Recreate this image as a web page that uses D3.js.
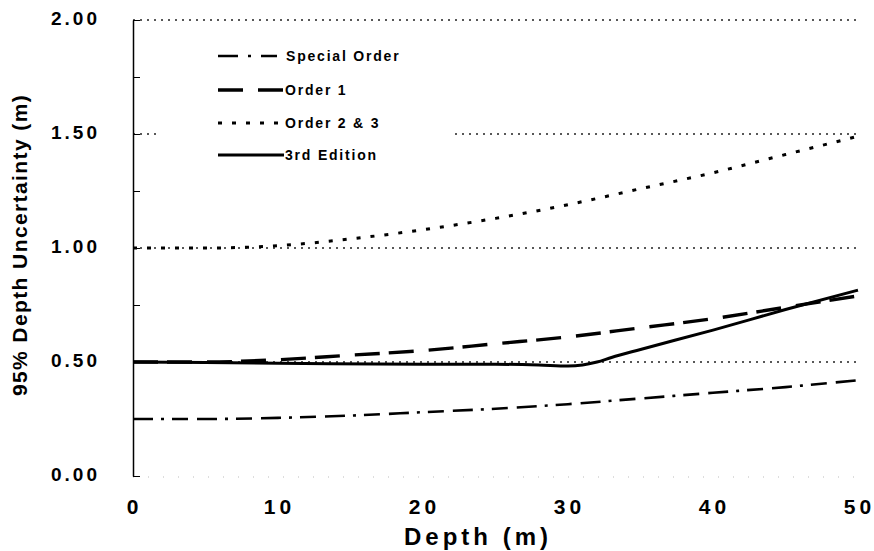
<!DOCTYPE html>
<html>
<head>
<meta charset="utf-8">
<script src="https://cdn.jsdelivr.net/npm/d3@7"></script>
<style>
    body { margin: 0; background: #fff; }
    svg text { font-family: "Liberation Sans", Arial, sans-serif; font-weight: bold; fill: #000; }
</style>
</head>
<body>
<svg id="chart" width="874" height="551"></svg>
<script>
// values
const depths = [0, 5, 10, 15, 20, 25, 30, 35, 40, 45, 50];
const specialOrder = [0.25, 0.25, 0.255, 0.265, 0.28, 0.295, 0.315, 0.34, 0.365, 0.39, 0.42];
const order1 = [0.50, 0.50, 0.51, 0.53, 0.55, 0.58, 0.61, 0.65, 0.69, 0.74, 0.79];
const order23 = [1.00, 1.00, 1.01, 1.04, 1.08, 1.13, 1.19, 1.26, 1.33, 1.41, 1.49];
const thirdEdDepths = [0, 10, 20, 25, 28, 30, 31, 32, 33, 35, 40, 45, 50];
const thirdEd = [0.50, 0.495, 0.49, 0.49, 0.487, 0.483, 0.487, 0.50, 0.52, 0.555, 0.64, 0.73, 0.815];
const seriesNames = ['Special Order', 'Order 1', 'Order 2 & 3', '3rd Edition'];
const xTicks = [0, 10, 20, 30, 40, 50];
const yTicks = [0, 0.25, 0.5, 0.75, 1, 1.25, 1.5, 1.75, 2];
const gridValues = [0.5, 1, 1.5, 2];

const svg = d3.select('#chart');

let x = d3.scaleLinear().domain([0, 50]).range([133, 858]),
    y = d3.scaleLinear().domain([0, 2]).range([476, 20]);

// dotted gridlines
svg.append('g')
    .selectAll('line')
    .data(gridValues)
    .join('line')
    .attr('x1', x(0))
    .attr('x2', x(50))
    .attr('y1', d => y(d))
    .attr('y2', d => y(d))
    .attr('stroke', '#222')
    .attr('stroke-width', 1.3)
    .attr('stroke-dasharray', '2 5');

// faint bottom edge
svg.append('line')
    .attr('x1', x(0)).attr('x2', x(50))
    .attr('y1', y(0) + 1).attr('y2', y(0) + 1)
    .attr('stroke', '#bbb')
    .attr('stroke-width', 1)
    .attr('stroke-dasharray', '1 14');

// y axis, ticks pointing inwards
let yAxis = svg.append('g')
    .attr('transform', `translate(${x(0)},0)`)
    .call(d3.axisLeft(y)
        .tickValues(yTicks)
        .tickSizeInner(-7)
        .tickSizeOuter(0)
        .tickPadding(33)
        .tickFormat(d => (d * 2) % 1 === 0 ? d3.format('.2f')(d) : ''));

yAxis.select('.domain').attr('stroke-width', 1.5);
yAxis.selectAll('.tick line').attr('stroke-width', 1);
yAxis.selectAll('text')
    .attr('font-size', 19)
    .attr('letter-spacing', 3)
    .attr('fill', '#000')
    .attr('dy', '0.25em');

// x axis labels only
let xAxis = svg.append('g')
    .attr('transform', `translate(0,${y(0)})`)
    .call(d3.axisBottom(x).tickValues(xTicks).tickSize(0).tickPadding(23).tickFormat(d3.format('d')));

xAxis.select('.domain').remove();
xAxis.selectAll('text')
    .attr('font-size', 21)
    .attr('letter-spacing', 4)
    .attr('dx', 1)
    .attr('fill', '#000');

// axis titles
svg.append('text')
    .attr('x', 478)
    .attr('y', 545)
    .attr('text-anchor', 'middle')
    .attr('font-size', 24)
    .attr('letter-spacing', 4)
    .text('Depth (m)');

svg.append('text')
    .attr('transform', 'translate(27,245) rotate(-90)')
    .attr('text-anchor', 'middle')
    .attr('font-size', 21)
    .attr('letter-spacing', 1.4)
    .text('95% Depth Uncertainty (m)');

// series
let line = d3.line()
    .curve(d3.curveMonotoneX)
    .x(d => x(d[0]))
    .y(d => y(d[1]));

const styles = [
    { dash: '20 8 3 8 16 9', width: 2.6, legendDash: '20 10 3 10 16 12' },
    { dash: '25 9 25 15', width: 3.4, legendDash: '25 15 25 9' },
    { dash: '4 10', width: 3, legendDash: '4 10' },
    { dash: null, width: 3, legendDash: null }
];

const seriesData = [
    d3.zip(depths, specialOrder),
    d3.zip(depths, order1),
    d3.zip(depths, order23),
    d3.zip(thirdEdDepths, thirdEd)
];

// legend box (white, covers gridlines)
svg.append('rect')
    .attr('x', 160).attr('y', 38)
    .attr('width', 295).attr('height', 135)
    .attr('fill', '#fff');

svg.append('g')
    .selectAll('path')
    .data(seriesData)
    .join('path')
    .attr('d', d => line(d))
    .attr('fill', 'none')
    .attr('stroke', '#000')
    .attr('stroke-width', (d, i) => styles[i].width)
    .attr('stroke-dasharray', (d, i) => styles[i].dash);

// legend
const legendY = [56, 90, 123, 155];
let legend = svg.append('g')
    .selectAll('g')
    .data(seriesNames)
    .join('g')
    .attr('transform', (d, i) => `translate(218,${legendY[i]})`);

legend.append('line')
    .attr('x1', 0).attr('x2', (d, i) => i === 0 ? 59 : 66)
    .attr('y1', 0).attr('y2', 0)
    .attr('stroke', '#000')
    .attr('stroke-width', (d, i) => styles[i].width)
    .attr('stroke-dasharray', (d, i) => styles[i].legendDash);

legend.append('text')
    .attr('x', (d, i) => i === 0 ? 68 : 67)
    .attr('y', 5)
    .attr('font-size', 14)
    .attr('letter-spacing', 1.8)
    .text(d => d);
</script>
</body>
</html>
